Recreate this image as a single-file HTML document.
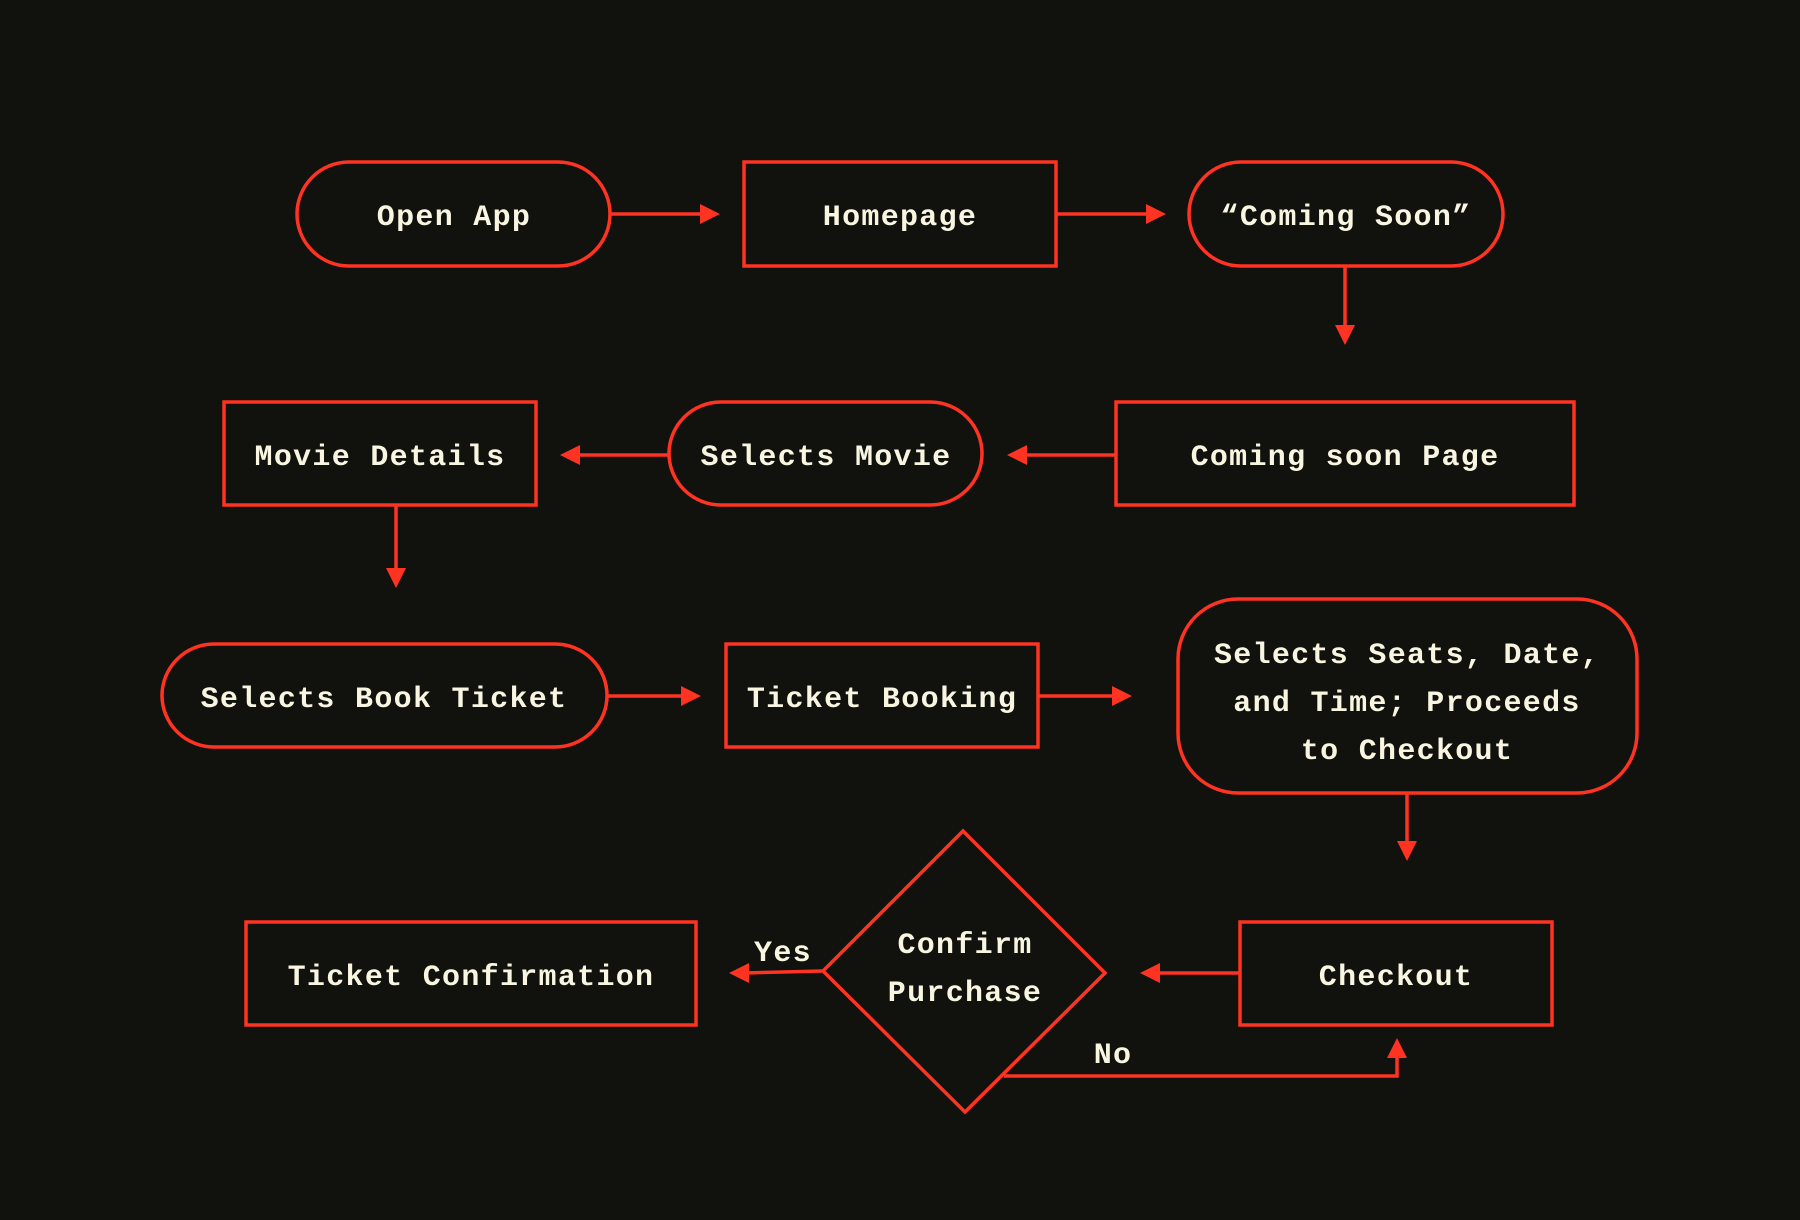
<!DOCTYPE html>
<html><head><meta charset="utf-8"><style>
html,body{margin:0;padding:0;background:#11110d;}
svg{display:block}
text{font-family:"Liberation Mono",monospace;font-weight:bold;font-size:30px;letter-spacing:1.3px;fill:#f8f5e0;text-anchor:middle;dominant-baseline:central}
</style></head><body>
<svg width="1800" height="1220" viewBox="0 0 1800 1220" xmlns="http://www.w3.org/2000/svg">
<rect width="1800" height="1220" fill="#11110d"/>
<g fill="none" stroke="#ff3322" stroke-width="3.5">
<rect x="297" y="162" width="313" height="104" rx="52"/>
<rect x="744" y="162" width="312" height="104"/>
<rect x="1189" y="162" width="314" height="104" rx="52"/>
<rect x="224" y="402" width="312" height="103"/>
<rect x="669" y="402" width="313" height="103" rx="52"/>
<rect x="1116" y="402" width="458" height="103"/>
<rect x="162" y="644" width="445" height="103" rx="52"/>
<rect x="726" y="644" width="312" height="103"/>
<rect x="1178" y="599" width="459" height="194" rx="60"/>
<rect x="246" y="922" width="450" height="103"/>
<polygon points="963,831 1105,973 965,1112 823,971"/>
<rect x="1240" y="922" width="312" height="103"/>
<path d="M610 214H705 M1056 214H1151 M1345 266V330 M1116 455H1022 M669 455H575 M396 505V573 M607 696H686 M1038 696H1117 M1407 793V846 M1240 973H1155 M823 971L744 973 M1004 1076H1397V1054"/>
</g>
<g fill="#ff3322">
<polygon points="720,214 700,204 700,224"/>
<polygon points="1166,214 1146,204 1146,224"/>
<polygon points="1345,345 1335,325 1355,325"/>
<polygon points="1007,455 1027,445 1027,465"/>
<polygon points="560,455 580,445 580,465"/>
<polygon points="396,588 386,568 406,568"/>
<polygon points="701,696 681,686 681,706"/>
<polygon points="1132,696 1112,686 1112,706"/>
<polygon points="1407,861 1397,841 1417,841"/>
<polygon points="1140,973 1160,963 1160,983"/>
<polygon points="729,973 749,963 749,983"/>
<polygon points="1397,1038 1387,1058 1407,1058"/>
</g>
<g transform="translate(0,3)">
<text x="454" y="215">Open App</text>
<text x="900" y="215">Homepage</text>
<text x="1346" y="215">“Coming Soon”</text>
<text x="380" y="455">Movie Details</text>
<text x="826" y="455">Selects Movie</text>
<text x="1345" y="455">Coming soon Page</text>
<text x="384" y="697">Selects Book Ticket</text>
<text x="882" y="697">Ticket Booking</text>
<text x="1407" y="653">Selects Seats, Date,</text>
<text x="1407" y="701">and Time; Proceeds</text>
<text x="1407" y="749">to Checkout</text>
<text x="471" y="975">Ticket Confirmation</text>
<text x="965" y="943">Confirm</text>
<text x="965" y="991">Purchase</text>
<text x="1396" y="975">Checkout</text>
<text x="783" y="951">Yes</text>
<text x="1113" y="1053">No</text>
</g>
</svg>
</body></html>
